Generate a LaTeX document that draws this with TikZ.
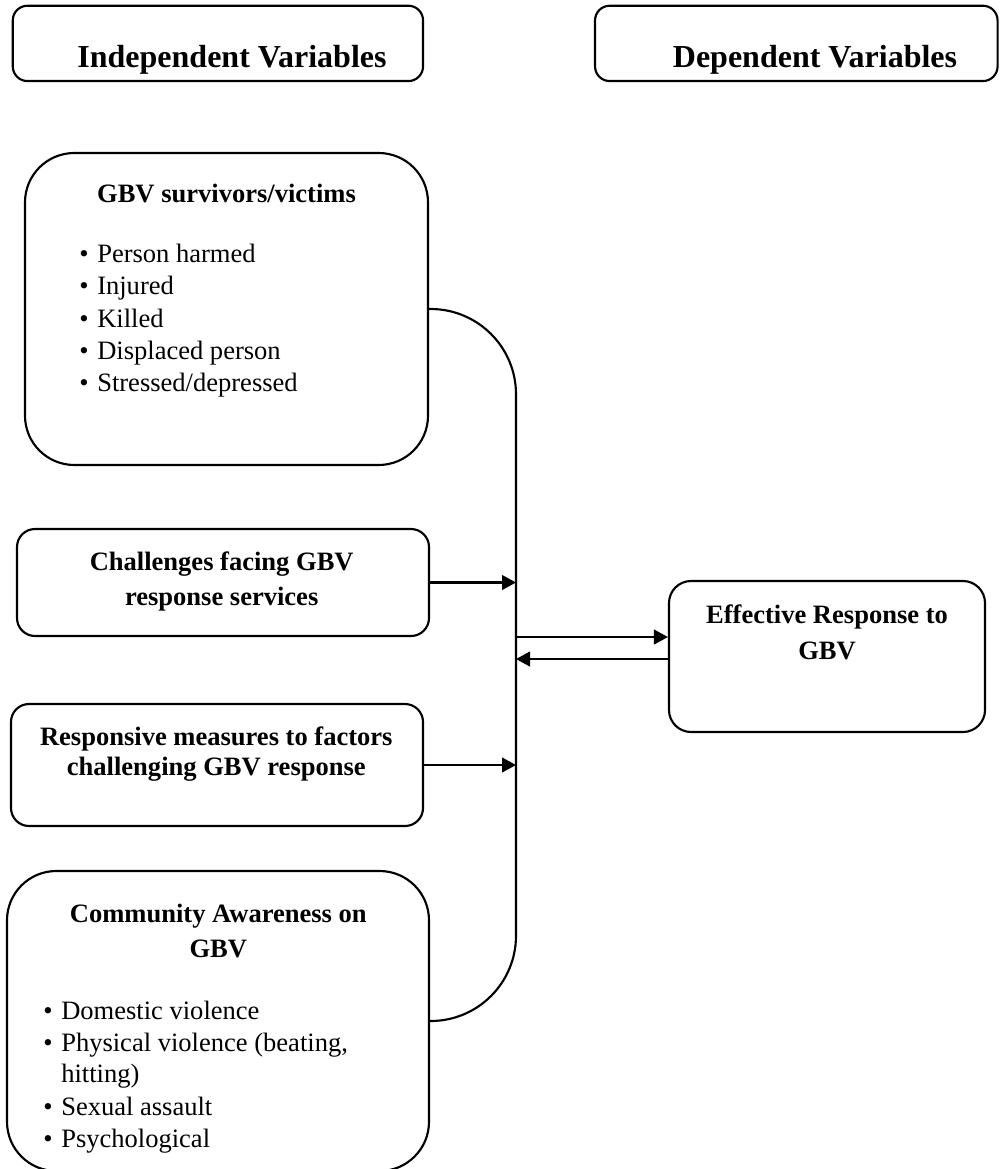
\documentclass[tikz,border=0pt]{standalone}
\usepackage{fontspec}
\setmainfont{Liberation Serif}
\usepackage{tikz}
\usetikzlibrary{arrows.meta}
\newcommand{\twoline}[1]{\begin{tabular}[t]{@{}c@{}}#1\end{tabular}}
\newcommand{\bul}{\makebox[13.5pt][l]{\textbullet}}
\tikzset{
  box/.style={draw,line width=1.6pt,inner sep=0pt},
  head/.style={font=\bfseries\fontsize{24}{28}\selectfont,anchor=base,inner sep=0pt},
  title/.style={font=\bfseries\fontsize{19.9}{26.25}\selectfont,anchor=base,inner sep=0pt},
  item/.style={font=\fontsize{19.9}{24}\selectfont,anchor=base west,inner sep=0pt},
  link/.style={line width=1.6pt},
  arr/.style={line width=1.6pt,-{Triangle[length=10.5pt,width=11pt]}}
}

\begin{document}
\begin{tikzpicture}[x=0.75pt,y=-0.75pt]
\useasboundingbox (0,0) rectangle (999,1169);

% column headers
\node[box,rounded corners=11pt,minimum width=307.7pt,minimum height=56.5pt] (hdrI) at (217.9,43.4) {};
\node[box,rounded corners=11pt,minimum width=301.9pt,minimum height=56.5pt] (hdrD) at (796.3,43.4) {};
\node[head] (hdrIT) at (232,68) {Independent Variables};
\node[head] (hdrDT) at (815,68) {Dependent Variables};

% independent variables
\node[box,rounded corners=37pt,minimum width=302.25pt,minimum height=234pt] (surv) at (226.5,309) {};
\node[title] (survT) at (226.5,203) {GBV survivors/victims};
\foreach \t [count=\i] in {Person harmed,Injured,Killed,Displaced person,Stressed/depressed}
  \node[item] (survI\i) at (79,{263+32*(\i-1)}) {\bul\t};

\node[box,rounded corners=13.5pt,minimum width=309pt,minimum height=80.25pt] (chal) at (223,582.5) {};
\node[title] (chalT) at (221.7,570) {\twoline{Challenges facing GBV\\response services}};

\node[box,rounded corners=13.5pt,minimum width=309pt,minimum height=91.5pt] (resp) at (217,765) {};
\node[title,font=\bfseries\fontsize{19.9}{22.5}\selectfont] (respT) at (216.3,745) {\twoline{Responsive measures to factors\\challenging GBV response}};

\node[box,rounded corners=37pt,minimum width=316.5pt,minimum height=225pt] (comm) at (218,1021) {};
\node[title] (commT) at (218.3,922) {\twoline{Community Awareness on\\GBV}};
\node[item] (commI1) at (43,1019) {\bul Domestic violence};
\node[item] (commI2) at (43,1051) {\bul Physical violence (beating,};
\node[item] (commI2b) at (61,1082) {hitting)};
\node[item] (commI3) at (43,1115) {\bul Sexual assault};
\node[item] (commI4) at (43,1147) {\bul Psychological};

% dependent variable
\node[box,rounded corners=16.5pt,minimum width=237pt,minimum height=113.25pt] (eff) at (827,656.5) {};
\node[title,font=\bfseries\fontsize{19.9}{27}\selectfont] (effT) at (827,623) {\twoline{Effective Response to\\GBV}};

% bus line and arrows
\coordinate (bus) at (516,660);
\draw[link,rounded corners=64pt] (surv.east) -| (bus) |- (comm.east);
\draw[arr] (chal.east) -- (chal.east -| bus);
\draw[arr] (resp.east) -- (resp.east -| bus);
\coordinate (fwd) at ([yshift=14.6pt]eff.west);
\coordinate (back) at ([yshift=-1.9pt]eff.west);
\draw[arr] (fwd -| bus) -- (fwd);
\draw[arr] (back) -- (back -| bus);
\end{tikzpicture}
\end{document}
